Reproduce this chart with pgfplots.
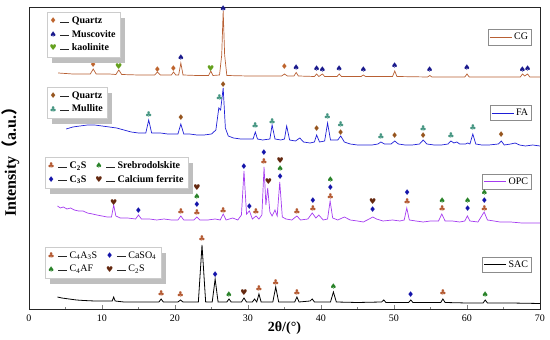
\documentclass[border=0pt]{standalone}
\usepackage{fontspec}
\setmainfont{Liberation Serif}
\newfontfamily\suitfont{DejaVu Sans}
\newfontfamily\cjk{Noto Sans CJK SC}
\usepackage{pgfplots}
\pgfplotsset{compat=1.18}
\usetikzlibrary{shadows}

\definecolor{cgc}{RGB}{184,96,52}
\definecolor{fac}{RGB}{30,30,215}
\definecolor{opcc}{RGB}{165,60,240}
\definecolor{sacc}{RGB}{0,0,0}
\definecolor{qzc}{RGB}{190,100,45}
\definecolor{musc}{RGB}{25,25,140}
\definecolor{kaoc}{RGB}{100,160,30}
\definecolor{qzfa}{RGB}{150,85,30}
\definecolor{mulc}{RGB}{70,150,130}
\definecolor{c2sc}{RGB}{180,90,50}
\definecolor{srec}{RGB}{40,130,40}
\definecolor{c3sc}{RGB}{20,20,170}
\definecolor{cfc}{RGB}{100,40,15}

\newcommand\suit{\suitfont\fontsize{8}{8}\selectfont}
\newcommand\mkdef[3]{\pgfdeclareplotmark{#1}{\pgftext{\color{#2}\suit #3}}}
\mkdef{qzdiam}{qzc}{♦}
\mkdef{musspade}{musc}{♠}
\mkdef{kaoheart}{kaoc}{♥}
\mkdef{qzfadiam}{qzfa}{♦}
\mkdef{mulclub}{mulc}{♣}
\mkdef{c2sclub}{c2sc}{♣}
\mkdef{srespade}{srec}{♠}
\mkdef{c3sdiam}{c3sc}{♦}
\mkdef{cfheart}{cfc}{♥}
\newcommand\dash{\hspace{1.5pt}\textcolor{black!85}{\rule[0.3ex]{0.9em}{0.55pt}}\ }

\pgfplotsset{
 base/.style={width=511pt,height=302pt,scale only axis,xmin=0,xmax=70,ymin=0,ymax=302,
   at={(0pt,0pt)},anchor=south west,clip=false},
 hidden/.style={base,hide axis},
 serleg/.style={legend style={at={(0.984,#1)},anchor=east,draw=black!45,line width=0.4pt,
   fill=white,inner sep=1.5pt,font=\fontsize{10}{11}\selectfont},
   legend cell align=left,
   legend image code/.code={\draw[##1] (0pt,0pt) -- (22pt,0pt);}},
 mkleg/.style={legend style={at={(#1)},anchor=north west,draw=black!20,line width=0.4pt,fill=white,
   drop shadow={shadow xshift=5pt,shadow yshift=-6pt,fill=black!25,opacity=1},
   font=\bfseries\fontsize{10}{11}\selectfont,row sep=1.2pt,inner sep=2.5pt,
   /tikz/every even column/.append style={column sep=7pt}},
   legend cell align=left,
   legend image code/.code={\draw[##1] plot coordinates {(0.1cm,0cm)};}},
 mk/.style={only marks,mark=#1},
}

\begin{document}
\begin{tikzpicture}
\useasboundingbox (-29pt,-31pt) rectangle (521pt,309pt);
% ---------- main axis with SAC ----------
\begin{axis}[base, serleg=0.147,
  axis line style={black!85,line width=0.6pt},
  xtick={0,10,...,70}, minor x tick num=1, ytick=\empty, xtick pos=left,
  major tick length=4pt, minor tick length=2pt,
  /pgf/number format/assume math mode=true,
  xticklabel style={font=\fontsize{10}{12}\selectfont,yshift=-2pt},
  xlabel={2θ/(°)},
  xlabel style={at={(axis description cs:0.5,-0.063)},anchor=center,font=\bfseries\fontsize{14}{16}\selectfont},
  ylabel={Intensity{\cjk （}a.u.{\cjk ）}},
  ylabel style={at={(axis description cs:-0.012,0.5)},anchor=south,font=\bfseries\fontsize{16}{18}\selectfont},
]
\addplot[sacc,line width=0.8pt] coordinates {
(3.9,12)(4.5,11)(5.5,10)(6.5,9)(7.5,8.5)(9,8)(10.5,8)(11.4,8)(11.6,12)(11.8,8)
(13,7)(15,7)(17,7)(17.8,7)(18.1,10)(18.4,7)(20.4,7)(20.75,9)(21.1,7)
(23.2,7)(23.7,64)(24.2,7)(25.1,7)(25.5,30)(25.9,7)(27.1,7)(27.4,10)(27.7,7)
(29.1,7)(29.45,11)(29.8,7)(30.6,7)(30.9,10)(31.2,7)(31.5,15)(31.8,7)
(33.4,7)(33.8,22)(34.2,7)(36.4,7)(36.7,12)(37.0,7)(38.5,8)(38.8,10)(39.1,7)
(41.3,7)(41.7,17)(42.1,7)(45,6.5)(48.3,7)(48.6,9)(48.9,6.5)(52.0,6.5)(52.3,9)(52.6,6.5)
(56.4,6.5)(56.7,10)(57.0,6.5)(60,6)(62.2,6)(62.5,9)(62.8,6)(66,6)(70,5.5)};
\addlegendentry{SAC}
\end{axis}
% ---------- OPC ----------
\begin{axis}[hidden, serleg=0.422]
\addplot[opcc,line width=0.7pt] coordinates {
(3.9,103)(4.3,101)(4.7,102)(5.2,100)(5.7,101)(6.2,99)(6.8,98)(7.4,98)(8,96)(8.7,95)(9.3,94)
(10,93)(10.7,92)(11.3,92)(11.6,104)(11.9,93)(12.5,91)(13.5,91)(14.6,90)(15.0,94)(15.4,90)
(16.5,90)(17.5,89)(18.5,90)(19.5,89)(20.4,89)(20.8,93)(21.2,89)(22.0,89)(22.6,89)(23.0,92)
(23.4,89)(24.5,89)(25.5,90)(26.2,89)(26.6,95)(27.0,89)(27.9,91)(28.6,89)(29.1,94)(29.45,138)
(29.8,95)(30.2,98)(30.6,90)(31.1,93)(31.5,90)(31.9,94)(32.2,142)(32.45,104)(32.7,121)(33.0,97)
(33.3,93)(33.7,99)(34.0,93)(34.35,127)(34.7,92)(35.2,90)(36.0,89)(36.7,93)(37.2,89)(38.2,90)
(38.8,96)(39.3,91)(39.7,94)(40.3,89)(40.9,90)(41.25,108)(41.6,91)(42.3,89)(43.2,92)(44.0,89)
(45,88)(45.8,87)(46.6,90)(47.1,92)(47.6,90)(48.5,88)(49.8,89)(50.8,88)(51.4,89)(51.75,101)
(52.1,89)(53,88)(54,87)(55,88)(56.1,88)(56.55,95)(57.0,88)(58,88)(59,87)(59.7,88)(60.05,93)
(60.4,88)(61.5,87)(62.35,97)(62.8,89)(63.7,88)(64.5,87)(66,87)(67.5,86)(69,86)(70,86)};
\addlegendentry{OPC}
\end{axis}
% ---------- FA ----------
\begin{axis}[hidden, serleg=0.649]
\addplot[fac,line width=0.7pt] coordinates {
(5.1,180)(6,182)(7,183)(8,184)(9,184)(10,183)(11,182)(12,181)(13,179)(14,177)(15,176)
(16.0,176)(16.4,189)(16.8,176)(18,176)(19,175)(20.4,175)(20.8,185)(21.2,175)(22,175)
(23,174)(24,174)(25,175)(25.6,179)(26.0,201)(26.25,199)(26.6,221)(26.9,181)(27.3,173)
(28,171)(29,170)(30,170)(30.7,170)(31.0,177)(31.3,170)(32,169)(33.0,170)(33.3,184)(33.7,170)
(34.5,169)(35.0,170)(35.3,183)(35.7,169)(36.5,168)(37.1,171)(37.6,167)(38.5,166)(39.1,167)
(39.4,174)(39.8,167)(40.5,168)(40.9,186)(41.3,169)(42.3,169)(42.7,173)(43.2,167)(44,165)
(45,164)(46,164)(47,164)(47.8,165)(48.2,167)(48.7,165)(49.6,165)(50.1,168)(50.6,165)
(51.5,164)(52.5,164)(53.5,165)(54.0,169)(54.5,165)(55.5,164)(56.5,164)(57.4,165)(57.8,168)
(58.2,166)(58.6,167)(59.0,165)(59.8,165)(60.1,166)(60.4,165)(60.8,175)(61.2,165)(62,164)
(63,164)(64.3,165)(64.7,168)(65.1,164)(66,165)(66.6,166)(67.2,164)(68,163)(69,164)(70,163)};
\addlegendentry{FA}
\end{axis}
% ---------- CG ----------
\begin{axis}[hidden, serleg=0.90]
\addplot[cgc,line width=0.7pt] coordinates {
(4.0,236)(5,235.5)(6,235)(7,235)(8.4,235)(8.8,240)(9.2,235)(11,235)(11.9,234.5)(12.3,239)
(12.7,234.5)(15,234)(17.2,234)(17.6,237)(18,234)(19.5,234)(19.8,237)(20.1,234)(20.5,234)
(20.8,246)(21.1,234)(23,233.5)(24.6,233.5)(24.9,238)(25.2,233.5)(26.1,234)(26.4,254)
(26.6,298)(26.8,254)(27.1,233.5)(30,233)(34.6,233)(35.0,235)(35.4,233)(36.3,233)(36.6,236.5)
(36.9,233)(39.1,232.5)(39.4,235)(39.7,232.5)(40.2,235)(40.5,232.5)(42.2,232.5)(42.5,235)
(42.8,232.5)(45.5,232.5)(45.8,234)(46.1,232.5)(49.8,232.5)(50.1,238)(50.4,232.5)(54.6,232)
(54.9,233.5)(55.2,232)(59.7,232)(60.0,235)(60.3,232)(67.3,232)(67.6,235)(67.9,233)(68.3,235)
(68.6,232)(70,232)};
\addlegendentry{CG}
\end{axis}
% ---------- CG markers ----------
\begin{axis}[hidden, mkleg={0.035,0.983}]
\addplot[mk=qzdiam] coordinates {(8.8,244)(17.6,239)(19.8,240)(35.0,242)};
\addlegendentry{\dash Quartz}
\addplot[mk=musspade] coordinates {(20.8,251)(26.6,300)(36.6,241)(39.4,240)(40.2,239)(42.5,240)
 (45.8,239)(50.1,243)(54.9,239)(60.0,241)(67.6,239)(68.3,240)};
\addlegendentry{\dash Muscovite}
\addplot[mk=kaoheart] coordinates {(12.3,242)(24.9,240)};
\addlegendentry{\dash kaolinite}
\end{axis}
% ---------- FA markers ----------
\begin{axis}[hidden, mkleg={0.035,0.735}]
\addplot[mk=qzfadiam] coordinates {(20.8,191)(26.6,224)(39.4,180)(42.7,176)(50.1,173)(54.0,173)(64.7,174)};
\addlegendentry{\dash Quartz}
\addplot[mk=mulclub] coordinates {(16.4,194)(26.1,211)(31.0,183)(33.3,187)(40.9,192)(42.7,184)
 (48.2,172)(54.0,180)(57.8,173)(60.8,181)};
\addlegendentry{\dash Mullite}
\end{axis}
% ---------- OPC markers ----------
\begin{axis}[hidden, mkleg={0.031,0.503}, legend columns=2]
\addplot[mk=c2sclub] coordinates {(20.8,97)(23.0,96)(26.6,98)(31.1,97)(32.2,147)(36.7,97)
 (38.9,100)(41.3,112)(51.8,107)(56.6,100)(62.4,100)};
\addlegendentry{\dash C\textsubscript{2}S}
\addplot[mk=srespade] coordinates {(23.0,112)(34.4,140)(41.3,129)(56.6,108)(60.1,108)(62.4,116)};
\addlegendentry{\dash Srebrodolskite}
\addplot[mk=c3sdiam] coordinates {(15.0,98)(23.0,104)(29.45,142)(30.2,102)(32.2,156)(34.4,132)
 (38.9,108)(41.3,121)(47.1,99)(51.8,116)(60.1,100)(62.4,108)};
\addlegendentry{\dash C\textsubscript{3}S}
\addplot[mk=cfheart] coordinates {(11.6,106)(23.0,121)(32.8,127)(34.4,148)(47.1,107)};
\addlegendentry{\dash Calcium ferrite}
\end{axis}
% ---------- SAC markers ----------
\begin{axis}[hidden, mkleg={0.031,0.205}, legend columns=2,
  legend style={font=\fontsize{10}{11}\selectfont}]
\addplot[mk=c2sclub] coordinates {(18.1,15)(20.75,14)(23.7,70)(31.5,20)(33.8,26)(36.7,16)(56.7,16)};
\addlegendentry{\dash C\textsubscript{4}A\textsubscript{3}S}
\addplot[mk=c3sdiam] coordinates {(25.5,34)(52.3,14)};
\addlegendentry{\dash CaSO\textsubscript{4}}
\addplot[mk=srespade] coordinates {(27.4,14)(41.7,22)(62.5,14)};
\addlegendentry{\dash C\textsubscript{4}AF}
\addplot[mk=cfheart] coordinates {(29.45,16)};
\addlegendentry{\dash C\textsubscript{2}S}
\end{axis}
\end{tikzpicture}
\end{document}
